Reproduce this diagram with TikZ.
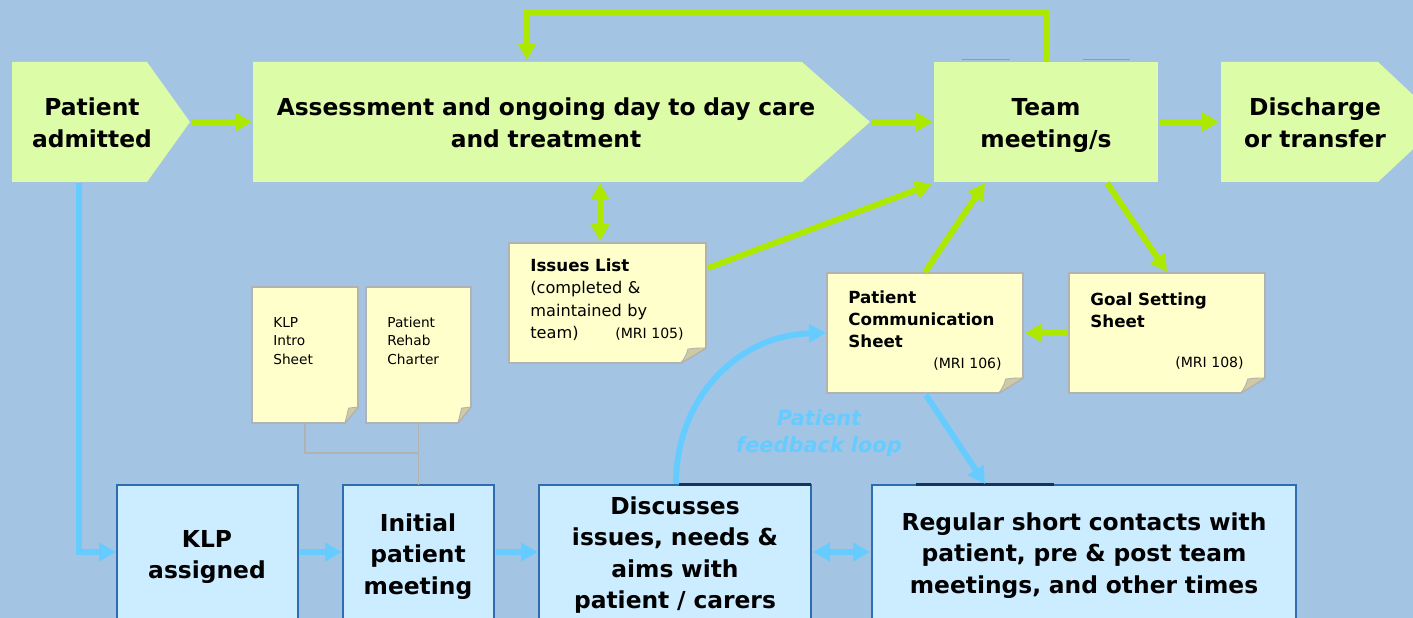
\documentclass[tikz,border=0pt]{standalone}
\usepackage{fontspec}
\setmainfont{DejaVu Sans}
\usetikzlibrary{arrows.meta,calc,fit}

\definecolor{bgblue}{HTML}{A3C5E3}
\definecolor{leaf}{HTML}{DDFCA8}
\definecolor{lime}{HTML}{ADE800}
\definecolor{sky}{HTML}{66CCFF}
\definecolor{pale}{HTML}{CCECFF}
\definecolor{frame}{HTML}{2D6DB0}
\definecolor{navy}{HTML}{16325E}
\definecolor{paper}{HTML}{FFFFCC}
\definecolor{papergray}{HTML}{B2B2B2}
\definecolor{foldtan}{HTML}{CFCAA4}
\definecolor{ghost}{HTML}{7F9FC0}

% a sheet of paper with a turned-up lower right corner
\newcommand\notepaper[3]{%
  \filldraw[sheet] (#1.north west) -- (#1.north east)
    -- ($(#1.south east)+(0,-#3)$) -- ($(#1.south east)+(-#2,0)$)
    -- (#1.south west) -- cycle;
  \filldraw[foldc] ($(#1.south east)+(0,-#3)$)
    .. controls ($(#1.south east)+(-0.4*#2,-1.0*#3)$) .. ($(#1.south east)+(-0.72*#2,-0.93*#3)$)
    .. controls ($(#1.south east)+(-0.8*#2,-0.5*#3)$) .. ($(#1.south east)+(-#2,0)$) -- cycle;
}
% a stage box with a pointed right end
\newcommand\stageshape[2]{%
  \fill[leaf] (#1.north west) -- ($(#1.north east)+(-#2,0)$) -- (#1.east)
    -- ($(#1.south east)+(-#2,0)$) -- (#1.south west) -- cycle;
}

\begin{document}
\begin{tikzpicture}[x=0.02cm, y=-0.02cm,
  area/.style={inner sep=0pt, outer sep=0pt},
  lane/.style={area, fill=pale, draw=frame, line width=1.1pt},
  sheet/.style={fill=paper, draw=papergray, line width=1.1pt},
  foldc/.style={fill=foldtan, draw=papergray, line width=0.5pt},
  tip/.style={Triangle[length=0.34cm,width=0.36cm]},
  garrow/.style={draw=lime, line width=3.4pt, -{Triangle[length=0.34cm,width=0.36cm]}},
  gboth/.style={draw=lime, line width=3.4pt, {Triangle[length=0.34cm,width=0.36cm]}-{Triangle[length=0.34cm,width=0.36cm]}},
  barrow/.style={draw=sky, line width=3.4pt, -{Triangle[length=0.34cm,width=0.36cm]}},
  bboth/.style={draw=sky, line width=3.4pt, {Triangle[length=0.34cm,width=0.36cm]}-{Triangle[length=0.34cm,width=0.36cm]}},
  tie/.style={draw=papergray, line width=1.1pt},
  headtxt/.style={inner sep=0pt, anchor=base, align=center, text width=12cm,
    font=\fontsize{13.3}{18}\selectfont\bfseries},
  notetitle/.style={inner sep=0pt, anchor=base west, align=left, text width=4cm,
    font=\fontsize{9.5}{12.6}\selectfont\bfseries},
  notebody/.style={inner sep=0pt, anchor=base west, align=left, text width=4cm,
    font=\fontsize{9.2}{12.6}\selectfont},
  mri/.style={inner sep=0pt, anchor=base east, font=\fontsize{8}{10}\selectfont},
  small/.style={inner sep=0pt, anchor=base west, align=left, text width=2cm,
    font=\fontsize{7.8}{10.8}\selectfont},
  looptxt/.style={inner sep=0pt, anchor=base, align=center, text width=5cm, text=sky,
    font=\fontsize{11.9}{15.9}\selectfont\bfseries\itshape}]

% canvas
\fill[bgblue] (0,0) rectangle (1413,618);
\path[use as bounding box] (0,0) rectangle (1413,618);
\clip (0,0) rectangle (1413,618);

% ---- top row: the ward pathway ----
\node[area, fit={(12,62) (190,182)}] (adm) {};
\stageshape{adm}{43}
\node[area, fit={(253,62) (870,182)}] (assess) {};
\stageshape{assess}{68}
\node[area, fill=leaf, fit={(934,62) (1158,182)}] (team) {};
\node[area, fit={(1221,62) (1442,182)}] (dis) {};
\stageshape{dis}{64}

\draw[ghost, line width=0.9pt] (962,59.5) -- (1010,59.5) (1083,59.5) -- (1130,59.5);

\node[headtxt] (admT) at (92,116) {Patient\\admitted};
\node[headtxt] (assessT) at (546,116) {Assessment and ongoing day to day care\\and treatment};
\node[headtxt] (teamT) at (1046,116) {Team\\meeting/s};
\node[headtxt] (disT) at (1315,116) {Discharge\\or transfer};

% ---- paperwork ----
\node[area, fit={(509,243) (706,363)}] (issues) {};
\notepaper{issues}{25}{15}
\node[notetitle] (issuesT) at (530,272) {Issues List};
\node[notebody] (issuesB) at (530,294) {(completed \&\\maintained by\\team)};
\node[mri] (issuesM) at (684,338) {(MRI 105)};

\node[area, fit={(827,273) (1023,393)}] (pcs) {};
\notepaper{pcs}{24}{15}
\node[notetitle] (pcsT) at (848,303) {Patient\\Communication\\Sheet};
\node[mri] (pcsM) at (1002,368) {(MRI 106)};

\node[area, fit={(1069,273) (1265,393)}] (goal) {};
\notepaper{goal}{24}{15}
\node[notetitle] (goalT) at (1090,305) {Goal Setting\\Sheet};
\node[mri] (goalM) at (1244,367) {(MRI 108)};

\node[area, fit={(252,287) (358,423)}] (klpi) {};
\notepaper{klpi}{13}{16}
\node[small] (klpiT) at (273,327) {KLP\\Intro\\Sheet};

\node[area, fit={(366,287) (471,423)}] (charter) {};
\notepaper{charter}{13}{16}
\node[small] (charterT) at (387,327) {Patient\\Rehab\\Charter};

% ---- bottom row: key link person ----
\node[lane, fit={(117,485) (298,625)}] (klp) {};
\node[lane, fit={(343,485) (494,625)}] (init) {};
\node[lane, fit={(539,485) (811,625)}] (disc) {};
\node[lane, fit={(872,485) (1296,625)}] (reg) {};
\draw[navy, line width=1.2pt] (679,484.5) -- (811,484.5) (916,484.5) -- (1054,484.5);

\node[headtxt] (klpT) at (207,547) {KLP\\assigned};
\node[headtxt] (initT) at (418,531) {Initial\\patient\\meeting};
\node[headtxt] (discT) at (675,514) {Discusses\\issues, needs \&\\aims with\\patient / carers};
\node[headtxt] (regT) at (1084,530) {Regular short contacts with\\patient, pre \& post team\\meetings, and other times};

\node[looptxt] (loopT) at (819,425) {Patient\\feedback loop};

% ---- connectors ----
\draw[tie] (klpi.south) -- ++(0,30) -| (init.north);
\draw[tie] (charter.south) -- (init.north);

\draw[garrow] ($(adm.east)+(2,0)$) -- ($(assess.west)+(-1,0)$);
\draw[garrow] ($(assess.east)+(2,0)$) -- ($(team.west)+(-1,0)$);
\draw[garrow] ($(team.east)+(2,0)$) -- ($(dis.west)+(-2,0)$);
\draw[garrow] (team.north) -- (team.north |- 0,13) -| ($(assess.north west)+(274,-2)$);
\draw[gboth] ($(assess.south west)+(347,1)$) -- ($(issues.north west)+(91,-2)$);
\draw[garrow] ($(issues.north east)+(2,25)$) -- ($(team.south west)+(-2,2)$);
\draw[garrow] ($(pcs.north west)+(98,-1)$) -- ($(team.south west)+(51,1)$);
\draw[garrow] ($(team.south west)+(173,1)$) -- ($(goal.north west)+(98,-1)$);
\draw[garrow] ($(goal.west)+(-1,0)$) -- ($(pcs.east)+(2,0)$);

\draw[barrow] ($(pcs.south west)+(99,2)$) -- ($(reg.north west)+(113,-1)$);
\draw[barrow] ($(adm.south west)+(67,1)$) |- ($(klp.north west)+(-1,67)$);
\draw[barrow] ($(klp.north east)+(2,67)$) -- ($(init.north west)+(-1,67)$);
\draw[barrow] ($(init.north east)+(2,67)$) -- ($(disc.north west)+(-1,67)$);
\draw[bboth] ($(disc.north east)+(2,67)$) -- ($(reg.north west)+(-2,67)$);
\draw[barrow] ($(disc.north west)+(137,-1)$) .. controls ($(disc.north west)+(137,-88)$) and ($(pcs.west)+(-88,2)$) .. ($(pcs.west)+(-1,0)$);

\end{tikzpicture}
\end{document}
